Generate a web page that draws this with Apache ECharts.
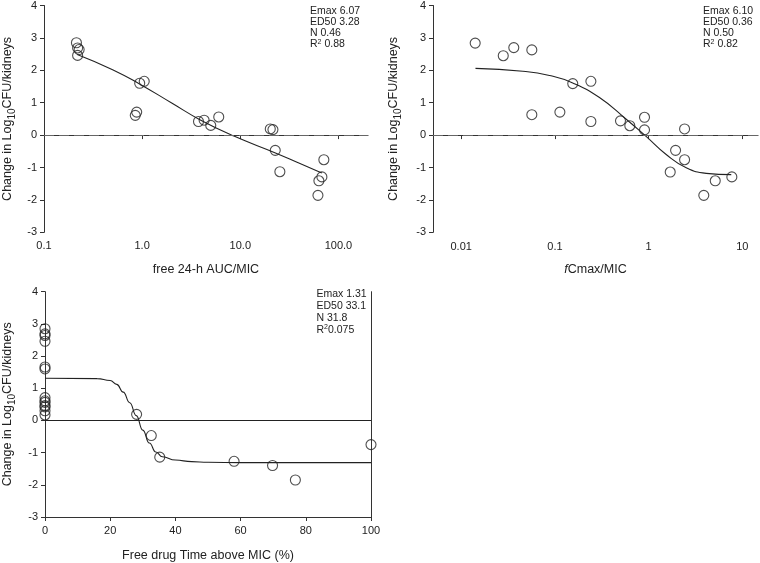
<!DOCTYPE html>
<html><head><meta charset="utf-8">
<script src="https://cdn.jsdelivr.net/npm/echarts@6/dist/echarts.min.js"></script>
<style>html,body{margin:0;padding:0;background:#fff}#c{width:760px;height:563px}</style>
</head><body><div id="c"></div>
<script>
// Panel 1: free 24-h AUC/MIC
const aucX = [0.214,0.22,0.228,0.22,0.851,0.88,0.944,1.05,3.75,4.28,5.0,6.03,20.2,21.5,22.7,25.3,61.8,63.2,67.8,71];
const aucY = [2.85,2.69,2.64,2.46,0.61,0.71,1.60,1.66,0.42,0.46,0.30,0.56,0.19,0.17,-0.47,-1.13,-1.86,-1.41,-1.29,-0.76];
const aucFitX = [0.218,0.5,0.94,2.0,3.96,8.6,22.8,40,67.7];
const aucFitY = [2.49,2.02,1.58,0.99,0.46,-0.03,-0.55,-0.87,-1.17];
// Panel 2: fCmax/MIC
const cmaxX = [0.0141,0.0281,0.0364,0.0567,0.0567,0.113,0.155,0.242,0.242,0.501,0.630,0.904,0.904,2.42,1.94,2.42,1.70,3.88,5.14,7.73];
const cmaxY = [2.84,2.45,2.70,2.63,0.63,0.71,1.59,1.66,0.42,0.44,0.29,0.55,0.16,0.19,-0.47,-0.76,-1.14,-1.86,-1.41,-1.29];
const cmaxFitX = [0.0142,0.0455,0.0875,0.155,0.299,0.577,0.94,1.54,2.52,4.12,7.62];
const cmaxFitY = [2.06,1.97,1.84,1.61,1.16,0.49,-0.04,-0.60,-1.01,-1.18,-1.22];
// Panel 3: Free drug Time above MIC (%)
const tX = [0,0,0,0,0,0,0,0,0,0,0,0,0,28.1,32.6,35.2,58.0,69.8,76.8,100];
const tY = [2.85,2.69,2.64,2.46,1.66,1.60,0.71,0.61,0.56,0.46,0.42,0.30,0.17,0.19,-0.47,-1.14,-1.27,-1.40,-1.85,-0.75];
const tFitX = [0,16,20,22,24,26,28,30,32,34,36,40,45,50,60,100];
const tFitY = [1.31,1.30,1.24,1.12,0.88,0.55,0.15,-0.30,-0.70,-0.98,-1.13,-1.23,-1.28,-1.30,-1.31,-1.31];
// Tick labels / annotations
const yTicks = [-3,-2,-1,0,1,2,3,4];
const ann1 = ['Emax 6.07','ED50 3.28','N 0.46',' 0.88'];
const ann2 = ['Emax 6.10','ED50 0.36','N 0.50',' 0.82'];
const ann3 = ['Emax 1.31','ED50 33.1','N 31.8','0.075'];

const FONT = 'Liberation Sans, Arial, sans-serif';
const TXT = '#222';
const zip = (a,b) => a.map((v,i)=>[v,b[i]]);

function yAxisCfg(gi, gap){
  return {
    type:'value', gridIndex:gi, min:yTicks[0], max:yTicks[yTicks.length-1], interval:1,
    axisLine:{show:true, lineStyle:{color:'#333', width:1}},
    axisTick:{show:true, inside:false, length:4, lineStyle:{color:'#333'}},
    axisLabel:{color:TXT, fontSize:11, fontFamily:FONT, margin:7},
    splitLine:{show:false},
    name:'{a|Change in Log}{s|10}{a|CFU/kidneys}', nameLocation:'middle', nameGap:gap, nameRotate:90,
    nameTextStyle:{rich:{
      a:{fontSize:12.5, fontFamily:FONT, color:TXT, lineHeight:16, verticalAlign:'top'},
      s:{fontSize:10, fontFamily:FONT, color:TXT, lineHeight:16, verticalAlign:'bottom'}
    }}
  };
}
function annText(lines){
  return '{t|'+lines[0]+'}\n{t|'+lines[1]+'}\n{t|'+lines[2]+'}\n{t|R}{p|2}{t|'+lines[3]+'}';
}
function annGraphic(left, top, lines, lh){
  return {type:'text', left:left, top:top, silent:true, style:{
    text:annText(lines), fill:TXT, font:'10.5px '+FONT,
    rich:{ t:{fontSize:10.5, fontFamily:FONT, fill:TXT, lineHeight:lh, verticalAlign:'bottom'},
           p:{fontSize:7, fontFamily:FONT, fill:TXT, lineHeight:lh, verticalAlign:'top'} }
  }};
}
const scatterStyle = {color:'rgba(0,0,0,0)', borderColor:'#222', borderWidth:1.1};
const lineStyleFit = {color:'#222', width:1.1};
const dashed = {color:'#666', type:[10,5], width:1.2};

const option = {
  animation:false,
  backgroundColor:'#fff',
  grid:[
    {left:42, top:4.3, width:326, height:228},
    {left:433, top:4.3, width:325, height:228},
    {left:44.5, top:291.7, width:326.5, height:227.6}
  ],
  xAxis:[
    {type:'log', logBase:10, gridIndex:0, min:0.1, max:200,
     axisLine:{lineStyle:{color:'#333'}}, axisTick:{length:4, lineStyle:{color:'#333'}},
     axisLabel:{color:TXT, fontSize:11, fontFamily:FONT, margin:8, showMaxLabel:false,
       formatter:v=>{const e=Math.round(Math.log10(v)); return e<0?'0.1':Math.pow(10,e).toFixed(1);}},
     splitLine:{show:false}, minorTick:{show:false},
     name:'free 24-h AUC/MIC', nameLocation:'middle', nameGap:31,
     nameTextStyle:{fontSize:12.5, fontFamily:FONT, color:TXT}},
    {type:'log', logBase:10, gridIndex:1, min:0.005, max:14.7,
     axisLine:{lineStyle:{color:'#333'}}, axisTick:{length:4, lineStyle:{color:'#333'}},
     axisLabel:{color:TXT, fontSize:11, fontFamily:FONT, margin:9, showMinLabel:false, showMaxLabel:false,
       formatter:v=>{const e=Math.round(Math.log10(v)); return e<0?Math.pow(10,e).toFixed(-e):String(Math.pow(10,e));}},
     splitLine:{show:false},
     name:'{i|f}{n|Cmax/MIC}', nameLocation:'middle', nameGap:31,
     nameTextStyle:{rich:{i:{fontSize:12.5, fontFamily:FONT, color:TXT, fontStyle:'italic'}, n:{fontSize:12.5, fontFamily:FONT, color:TXT}}}},
    {type:'value', gridIndex:2, min:0, max:100, interval:20,
     axisLine:{onZero:false, lineStyle:{color:'#333'}}, axisTick:{length:4, lineStyle:{color:'#333'}},
     axisLabel:{color:TXT, fontSize:11, fontFamily:FONT, margin:8},
     splitLine:{show:false},
     name:'Free drug Time above MIC (%)', nameLocation:'middle', nameGap:32,
     nameTextStyle:{fontSize:12.5, fontFamily:FONT, color:TXT}}
  ],
  yAxis:[
    yAxisCfg(0, 27),
    yAxisCfg(1, 30),
    yAxisCfg(2, 28),
    {type:'value', gridIndex:2, position:'right', min:-3, max:4, interval:1,
     axisLine:{show:true, lineStyle:{color:'#333'}}, axisTick:{show:false}, axisLabel:{show:false}, splitLine:{show:false}}
  ],
  series:[
    {type:'scatter', xAxisIndex:0, yAxisIndex:0, data:zip(aucX,aucY), symbol:'circle', symbolSize:10, itemStyle:scatterStyle, z:3,
     markLine:{silent:true, symbol:['none','none'], label:{show:false}, lineStyle:dashed, data:[{yAxis:0}]}},
    {type:'line', xAxisIndex:0, yAxisIndex:0, data:zip(aucFitX,aucFitY), showSymbol:false, smooth:0.5, lineStyle:lineStyleFit, z:2},
    {type:'scatter', xAxisIndex:1, yAxisIndex:1, data:zip(cmaxX,cmaxY), symbol:'circle', symbolSize:10, itemStyle:scatterStyle, z:3,
     markLine:{silent:true, symbol:['none','none'], label:{show:false}, lineStyle:dashed, data:[{yAxis:0}]}},
    {type:'line', xAxisIndex:1, yAxisIndex:1, data:zip(cmaxFitX,cmaxFitY), showSymbol:false, smooth:0.5, lineStyle:lineStyleFit, z:2},
    {type:'scatter', xAxisIndex:2, yAxisIndex:2, data:zip(tX,tY), symbol:'circle', symbolSize:10, itemStyle:scatterStyle, z:3,
     markLine:{silent:true, symbol:['none','none'], label:{show:false}, lineStyle:{color:'#222', type:'solid', width:1}, data:[{yAxis:0}]}},
    {type:'line', xAxisIndex:2, yAxisIndex:2, data:zip(tFitX,tFitY), showSymbol:false, smooth:0.5, smoothMonotone:'x', lineStyle:lineStyleFit, z:2}
  ],
  graphic:[
    annGraphic(310, 6, ann1, 11),
    annGraphic(703, 6, ann2, 11),
    annGraphic(316.5, 289, ann3, 12)
  ]
};
const chart = echarts.init(document.getElementById('c'), null, {renderer:'canvas'});
chart.setOption(option);
</script>
</body></html>
